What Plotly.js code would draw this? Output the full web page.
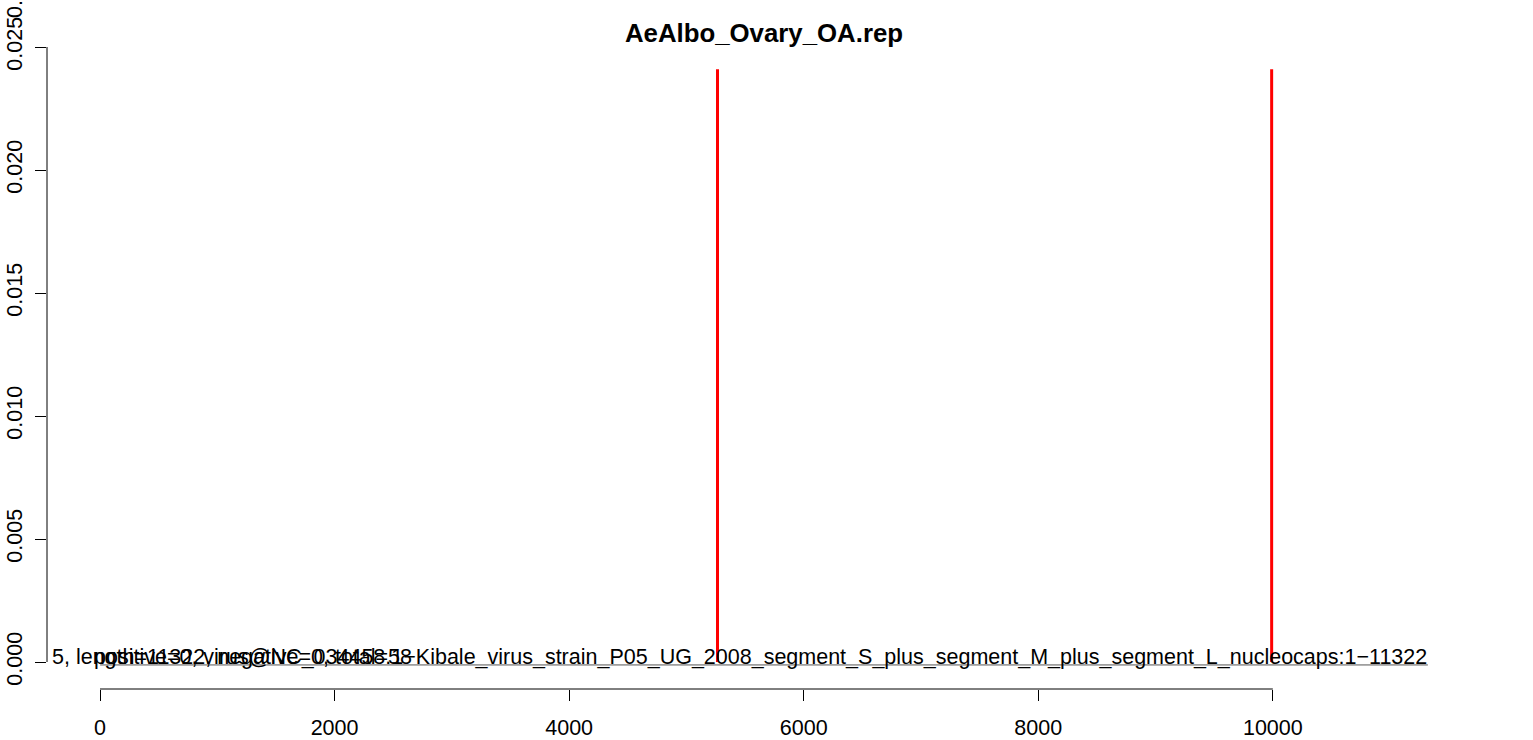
<!DOCTYPE html>
<html>
<head>
<meta charset="utf-8">
<script src="https://cdn.plot.ly/plotly-3.0.1.min.js"></script>
<style>html,body{margin:0;padding:0;background:#fff;}#chart{width:1533px;height:740px;}</style>
</head>
<body>
<div id="chart"></div>
<script>
// ---- data ----
const chartTitle = "AeAlbo_Ovary_OA.rep";
const peakPositions = [5265, 9990];
const peakHeights = [0.0241, 0.0241];
const segmentStart = 1;
const segmentEnd = 11322;
const segmentLevel = -0.00012;
const xTickVals = [0, 2000, 4000, 6000, 8000, 10000];
const xTickText = ["0", "2000", "4000", "6000", "8000", "10000"];
const yTickVals = [0, 0.005, 0.010, 0.015, 0.020, 0.025];
const yTickText = ["0.000", "0.005", "0.010", "0.015", "0.020", "0.025"];
const labelLeft = "5, length=11322, negative=0, total=58";
const labelRight = "positive=0, virus@NC_034458.1\u2212Kibale_virus_strain_P05_UG_2008_segment_S_plus_segment_M_plus_segment_L_nucleocaps:1\u221211322";

const FONT = "Liberation Sans, Arial, Helvetica, sans-serif";
const FS = 21.5;

// build vertical peak lines from data
const px = [], py = [];
peakPositions.forEach((p, i) => { px.push(p, p, null); py.push(0, peakHeights[i], null); });

const traces = [
  {
    x: [segmentStart, segmentEnd], y: [segmentLevel, segmentLevel],
    mode: "lines", line: {color: "#555555", width: 1}, hoverinfo: "skip", showlegend: false
  },
  {
    x: px, y: py, mode: "lines", line: {color: "#ff0000", width: 3},
    hoverinfo: "skip", showlegend: false
  }
];

const layout = {
  width: 1533, height: 740,
  margin: {l: 47, r: 52, t: 40, b: 51},
  paper_bgcolor: "#ffffff", plot_bgcolor: "#ffffff",
  font: {family: FONT, size: FS, color: "#000"},
  showlegend: false,
  title: {
    text: "<b>" + chartTitle + "</b>",
    x: 0.5, xref: "paper", y: 1 - 33/740, yref: "container", yanchor: "middle",
    font: {family: FONT, size: 25.8, color: "#000"}
  },
  xaxis: {
    range: [-452, 11775], showgrid: false, zeroline: false, showline: false,
    tickmode: "array", tickvals: xTickVals, ticktext: xTickText,
    ticks: "outside", ticklen: 11, tickwidth: 1, tickcolor: "#000",
    ticklabelstandoff: 8,
    tickfont: {family: FONT, size: FS, color: "#000"}
  },
  yaxis: {
    range: [-(689-662)/24600, (662-40)/24600], showgrid: false, zeroline: false, showline: false,
    tickmode: "array", tickvals: yTickVals, ticktext: yTickText,
    ticks: "outside", ticklen: 11, tickwidth: 1, tickcolor: "#000",
    tickangle: -90, ticklabelstandoff: 4,
    tickfont: {family: FONT, size: FS, color: "#000"}
  },
  shapes: [
    {type: "line", xref: "x", yref: "paper", x0: xTickVals[0], x1: xTickVals[xTickVals.length-1], y0: 0, y1: 0,
     line: {color: "#000", width: 1}},
    {type: "line", xref: "paper", yref: "y", x0: 0, x1: 0, y0: yTickVals[0], y1: yTickVals[yTickVals.length-1],
     line: {color: "#000", width: 1}}
  ],
  annotations: [
    {text: labelRight, xref: "x", yref: "y", x: segmentEnd, y: segmentLevel, xanchor: "right", yanchor: "bottom",
     showarrow: false, font: {family: FONT, size: FS, color: "#000"}, borderpad: 0, yshift: -5},
    {text: labelLeft, xref: "paper", yref: "y", x: 0.003, y: segmentLevel, xanchor: "left", yanchor: "bottom",
     showarrow: false, font: {family: FONT, size: FS, color: "#000"}, borderpad: 0, yshift: -5},
    {text: "0.0", xref: "paper", yref: "paper", x: 0, xshift: -32, y: 1, yshift: 20, textangle: -90,
     xanchor: "center", yanchor: "bottom", showarrow: false, font: {family: FONT, size: FS, color: "#000"}}
  ]
};

Plotly.newPlot("chart", traces, layout, {staticPlot: true, displayModeBar: false});
</script>
</body>
</html>
